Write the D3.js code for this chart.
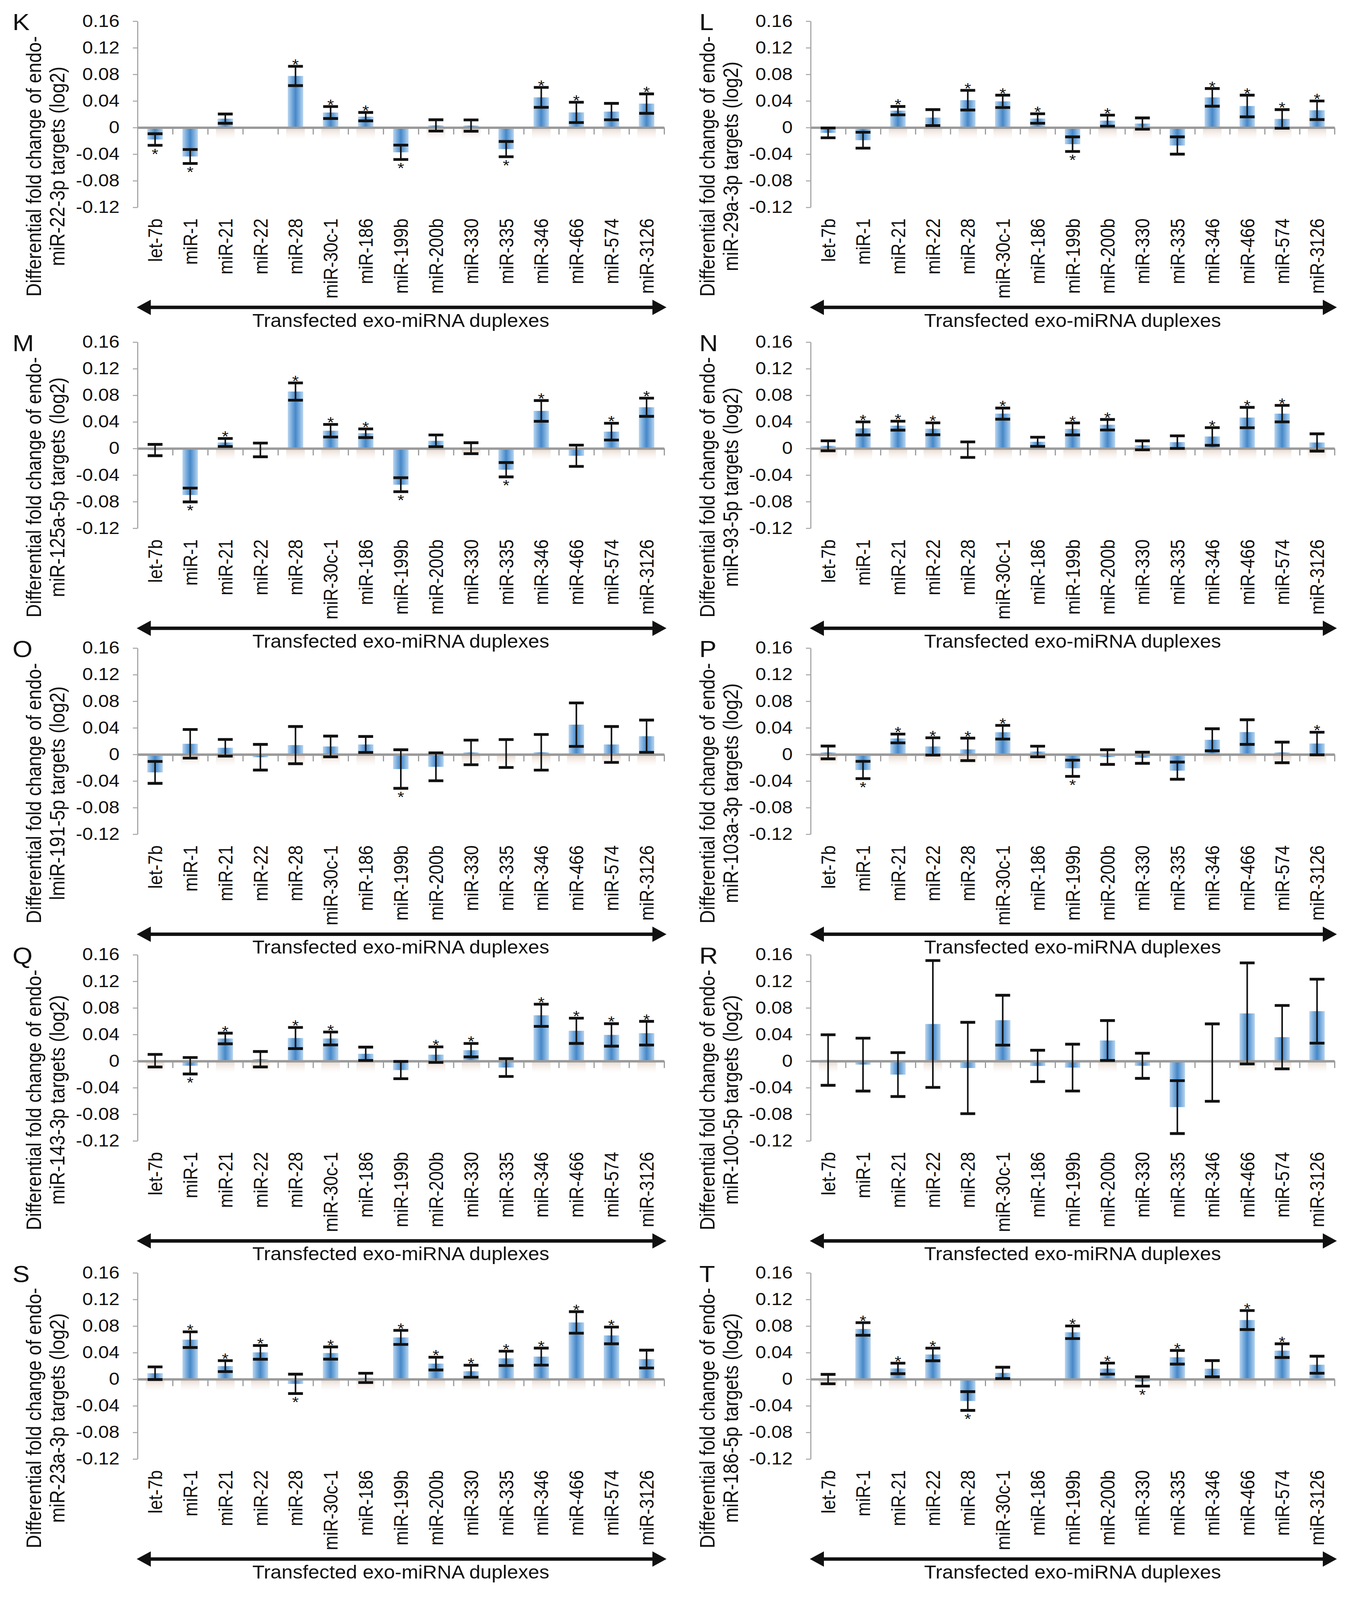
<!DOCTYPE html>
<html><head><meta charset="utf-8">
<script src="https://cdn.jsdelivr.net/npm/d3@7"></script>
<style>html,body{margin:0;padding:0;background:#fff;overflow:hidden}svg{display:block}text{font-family:"Liberation Sans",Arial,Helvetica,sans-serif}</style>
</head><body>
<svg id="chart"></svg>
<script>
// ---------------- data ----------------
const categories = ["let-7b","miR-1","miR-21","miR-22","miR-28","miR-30c-1","miR-186","miR-199b","miR-200b","miR-330","miR-335","miR-346","miR-466","miR-574","miR-3126"];
const yTicks = [0.16,0.12,0.08,0.04,0,-0.04,-0.08,-0.12];
const yTickLabels = ["0.16","0.12","0.08","0.04","0","-0.04","-0.08","-0.12"];
const panelLetters = ["K","L","M","N","O","P","Q","R","S","T"];
const panelTargets = ["miR-22-3p","miR-29a-3p","miR-125a-5p","miR-93-5p","lmiR-191-5p","miR-103a-3p","miR-143-3p","miR-100-5p","miR-23a-3p","miR-186-5p"];
const titleLine1 = "Differential fold change of endo-";
const xAxisTitle = "Transfected exo-miRNA duplexes";

const meanK = [-0.018,-0.0435,0.0134,null,0.0776,0.0226,0.0164,-0.0372,0.0032,0.003,-0.0324,0.0454,0.0228,0.024,0.036];
const errK  = [0.0087,0.0105,0.007,null,0.0145,0.009,0.0063,0.0108,0.0085,0.0085,0.0115,0.015,0.0153,0.0124,0.0146];
const sigK  = [1,1,0,0,1,1,1,1,0,0,1,1,1,0,1];

const meanL = [-0.008,-0.019,0.0254,0.015,0.0412,0.0394,0.0136,-0.025,0.0104,0.006,-0.027,0.0454,0.0324,0.013,0.026];
const errL  = [0.0074,0.012,0.0063,0.012,0.0148,0.0093,0.0071,0.011,0.0083,0.0085,0.013,0.0133,0.0163,0.014,0.014];
const sigL  = [0,0,1,0,1,1,1,1,1,0,0,1,1,1,1];

const meanM = [-0.0024,-0.070,0.009,-0.0022,0.0856,0.0267,0.0229,-0.0545,0.0115,0.0004,-0.032,0.0565,-0.011,0.0253,0.062];
const errM  = [0.0085,0.0104,0.006,0.0103,0.013,0.0095,0.0065,0.0105,0.0088,0.0082,0.0108,0.0156,0.016,0.0126,0.0137];
const sigM  = [0,1,1,0,1,1,1,1,0,0,1,1,0,1,1];

const meanN = [0.004,0.0302,0.0343,0.0296,-0.0018,0.0524,0.010,0.0294,0.0357,0.0047,0.0095,0.018,0.0465,0.0524,0.009];
const errN  = [0.0075,0.0098,0.0067,0.0089,0.0117,0.0084,0.0069,0.009,0.0079,0.0067,0.0095,0.0133,0.0153,0.0124,0.013];
const sigN  = [0,1,1,1,0,1,0,1,1,0,0,1,1,1,0];

const meanO = [-0.027,0.016,0.010,-0.0042,0.014,0.012,0.015,-0.022,-0.0186,0.003,0.0014,0.0032,0.0448,0.015,0.0274];
const errO  = [0.0165,0.0215,0.0125,0.0193,0.028,0.0156,0.012,0.029,0.021,0.0185,0.021,0.0268,0.0327,0.027,0.0243];
const sigO  = [0,0,0,0,0,0,0,1,0,0,0,0,0,0,0];

const meanP = [0.003,-0.0234,0.024,0.012,0.0076,0.0334,0.0044,-0.0208,-0.004,-0.005,-0.0244,0.022,0.0336,0.003,0.0164];
const errP  = [0.0096,0.013,0.0066,0.013,0.0169,0.0103,0.008,0.0122,0.011,0.0084,0.0129,0.0166,0.0185,0.0155,0.017];
const sigP  = [0,1,1,1,1,1,0,1,0,0,0,0,0,0,1];

const meanQ = [0.0006,-0.007,0.034,0.0028,0.0347,0.034,0.011,-0.0135,0.0097,0.0164,-0.0097,0.0689,0.0456,0.0394,0.042];
const errQ  = [0.0095,0.0124,0.008,0.0116,0.0159,0.0097,0.010,0.013,0.0117,0.0101,0.0134,0.0167,0.019,0.0169,0.0178];
const sigQ  = [0,1,1,0,1,1,0,0,1,1,0,1,1,1,1];

const meanR = [0.0016,-0.0053,-0.0203,0.0558,-0.0104,0.0615,-0.0073,-0.0098,0.031,-0.0071,-0.0692,-0.0022,0.0717,0.036,0.0751];
const errR  = [0.038,0.0398,0.033,0.0954,0.0687,0.0375,0.0236,0.0352,0.030,0.0189,0.0398,0.0582,0.076,0.0477,0.0481];
const sigR  = [0,0,0,0,0,0,0,0,0,0,0,0,0,0,0];

const meanS = [0.009,0.0595,0.0197,0.0404,-0.007,0.0394,0.002,0.0629,0.0235,0.012,0.0314,0.034,0.0854,0.0659,0.0303];
const errS  = [0.0095,0.0118,0.0082,0.0103,0.0146,0.0092,0.007,0.0106,0.0096,0.009,0.0108,0.0128,0.0162,0.0126,0.0134];
const sigS  = [0,1,1,1,1,1,0,1,1,1,1,1,1,1,0];

const meanT = [0.0002,0.0756,0.0162,0.0372,-0.0328,0.0095,null,0.0706,0.016,-0.0034,0.033,0.0158,0.089,0.043,0.0218];
const errT  = [0.0071,0.0095,0.0079,0.0095,0.0141,0.0085,null,0.0095,0.0083,0.007,0.0103,0.0122,0.0143,0.0103,0.0128];
const sigT  = [0,1,1,1,1,0,0,1,1,1,1,0,1,1,0];

const means = [meanK,meanL,meanM,meanN,meanO,meanP,meanQ,meanR,meanS,meanT];
const errs  = [errK,errL,errM,errN,errO,errP,errQ,errR,errS,errT];
const sigs  = [sigK,sigL,sigM,sigN,sigO,sigP,sigQ,sigR,sigS,sigT];

// ---------------- layout ----------------
const W = 3471, H = 4607;
const layout = {
  rowTops: [61, 985, 1866, 2749, 3665],
  plotH: 536,
  colX0: [352, 2075], colX1: [1700, 3416],
  title1X: [86, 1810], title2X: [146, 1870],
  letterX: [32, 1790]
};

// fit the whole figure into whatever viewport the page gets
const vw = window.innerWidth > 0 ? window.innerWidth : W;
const vh = window.innerHeight > 0 ? window.innerHeight : H;
const svg = d3.select("#chart").attr("width", vw).attr("height", vh)
  .attr("viewBox", `0 0 ${W} ${H}`).attr("preserveAspectRatio", "none");
svg.append("rect").attr("width", W).attr("height", H).attr("fill", "#fff");

const defs = svg.append("defs");
const g1 = defs.append("linearGradient").attr("id", "barGrad").attr("x1", 0).attr("x2", 1).attr("y1", 0).attr("y2", 0);
[[0,"#b9d5ef"],[0.28,"#74a9db"],[0.5,"#4787c7"],[0.72,"#74a9db"],[1,"#b9d5ef"]].forEach(([o,c]) => g1.append("stop").attr("offset", o).attr("stop-color", c));
const g2 = defs.append("linearGradient").attr("id", "shadowGrad").attr("x1", 0).attr("x2", 0).attr("y1", 0).attr("y2", 1);
g2.append("stop").attr("offset", 0).attr("stop-color", "#c9a58c").attr("stop-opacity", 0.45);
g2.append("stop").attr("offset", 1).attr("stop-color", "#e8d8cc").attr("stop-opacity", 0);

panelLetters.forEach((letter, i) => {
  const col = i % 2, row = Math.floor(i / 2);
  const top = layout.rowTops[row];
  const x0 = layout.colX0[col], x1 = layout.colX1[col];
  const g = svg.append("g");

  const y = d3.scaleLinear().domain([-0.12, 0.16]).range([top + layout.plotH, top]);
  const x = d3.scaleBand().domain(categories).range([x0, x1]).paddingInner(0.56).paddingOuter(0.28);
  const xi = d3.scaleLinear().domain([0, categories.length]).range([x0, x1]);

  // y axis
  const ya = g.append("g").attr("transform", `translate(${x0},0)`)
    .call(d3.axisLeft(y).tickValues(yTicks).tickFormat((d, k) => yTickLabels[k]).tickSize(12).tickSizeOuter(0).tickPadding(34));
  ya.select(".domain").attr("stroke", "#a8a8a8").attr("stroke-width", 3);
  ya.selectAll(".tick line").attr("stroke", "#a8a8a8").attr("stroke-width", 3);
  ya.selectAll(".tick text").attr("font-size", 49).attr("fill", "#111").attr("font-family", "'Liberation Sans',Arial,sans-serif");

  // data
  const data = categories.map((c, k) => ({cat: c, v: means[i][k], e: errs[i][k], s: sigs[i][k]}));
  const valid = data.filter(d => d.v !== null);

  // bar shadows
  g.selectAll(".shadow").data(valid.filter(d => d.v > 0)).join("rect")
    .attr("x", d => x(d.cat) - 4).attr("width", x.bandwidth() + 8)
    .attr("y", y(0)).attr("height", 34).attr("fill", "url(#shadowGrad)");

  // bars
  g.selectAll(".bar").data(valid).join("rect")
    .attr("x", d => x(d.cat)).attr("width", x.bandwidth())
    .attr("y", d => y(Math.max(0, d.v))).attr("height", d => Math.abs(y(d.v) - y(0)))
    .attr("fill", "url(#barGrad)");

  // zero axis with boundary ticks
  const za = g.append("g").attr("transform", `translate(0,${y(0)})`)
    .call(d3.axisBottom(xi).tickValues(d3.range(1, categories.length + 1)).tickSize(20).tickSizeOuter(0).tickFormat(""));
  za.select(".domain").attr("stroke", "#9a9a9a").attr("stroke-width", 7);
  za.selectAll(".tick line").attr("stroke", "#9a9a9a").attr("stroke-width", 3);

  // error bars
  const cx = d => x(d.cat) + x.bandwidth() / 2;
  const capW = 19;
  const eb = g.selectAll(".err").data(valid).join("g");
  eb.append("line").attr("x1", cx).attr("x2", cx).attr("y1", d => y(d.v + d.e)).attr("y2", d => y(d.v - d.e))
    .attr("stroke", "#111").attr("stroke-width", 4);
  eb.append("line").attr("x1", d => cx(d) - capW).attr("x2", d => cx(d) + capW).attr("y1", d => y(d.v + d.e)).attr("y2", d => y(d.v + d.e))
    .attr("stroke", "#111").attr("stroke-width", 8);
  eb.append("line").attr("x1", d => cx(d) - capW).attr("x2", d => cx(d) + capW).attr("y1", d => y(d.v - d.e)).attr("y2", d => y(d.v - d.e))
    .attr("stroke", "#111").attr("stroke-width", 8);

  // significance stars
  g.selectAll(".star").data(valid.filter(d => d.s)).join("text")
    .attr("x", cx).attr("text-anchor", "middle").attr("font-size", 44).attr("fill", "#111")
    .attr("y", d => d.v >= 0 ? y(d.v + d.e) + 10 : y(d.v - d.e) + 40)
    .text("*");

  // category labels
  const labY = top + layout.plotH + 32;
  g.selectAll(".cat").data(categories).join("text")
    .attr("transform", c => `translate(${x(c) + x.bandwidth() / 2},${labY}) rotate(-90)`)
    .attr("text-anchor", "end").attr("dy", "0.36em").attr("font-size", 50).attr("fill", "#111")
    .text(c => c);

  // double arrow
  const ay = top + 824;
  const aL = x0 - 2, aR = x1 + 6;
  g.append("line").attr("x1", aL + 20).attr("x2", aR - 20).attr("y1", ay).attr("y2", ay).attr("stroke", "#111").attr("stroke-width", 10);
  g.append("path").attr("d", `M${aL},${ay} L${aL + 36},${ay - 22} L${aL + 36},${ay + 22} Z`).attr("fill", "#111");
  g.append("path").attr("d", `M${aR},${ay} L${aR - 36},${ay - 22} L${aR - 36},${ay + 22} Z`).attr("fill", "#111");
  g.append("text").attr("x", (x0 + x1) / 2).attr("y", top + 861).attr("dy", "0.35em").attr("text-anchor", "middle")
    .attr("font-size", 54).attr("textLength", 760).attr("lengthAdjust", "spacingAndGlyphs").attr("fill", "#111")
    .text(xAxisTitle);

  // y title
  const ty = top + 418;
  g.append("text").attr("transform", `translate(${layout.title1X[col]},${ty}) rotate(-90)`).attr("text-anchor", "middle").attr("dy", "0.35em")
    .attr("font-size", 53).attr("fill", "#111").text(titleLine1);
  g.append("text").attr("transform", `translate(${layout.title2X[col]},${ty}) rotate(-90)`).attr("text-anchor", "middle").attr("dy", "0.35em")
    .attr("font-size", 53).attr("fill", "#111").text(panelTargets[i] + " targets (log2)");

  // panel letter
  g.append("text").attr("x", layout.letterX[col]).attr("y", top + 26).attr("font-size", 66).attr("fill", "#111").text(letter);
});
</script>
</body></html>
